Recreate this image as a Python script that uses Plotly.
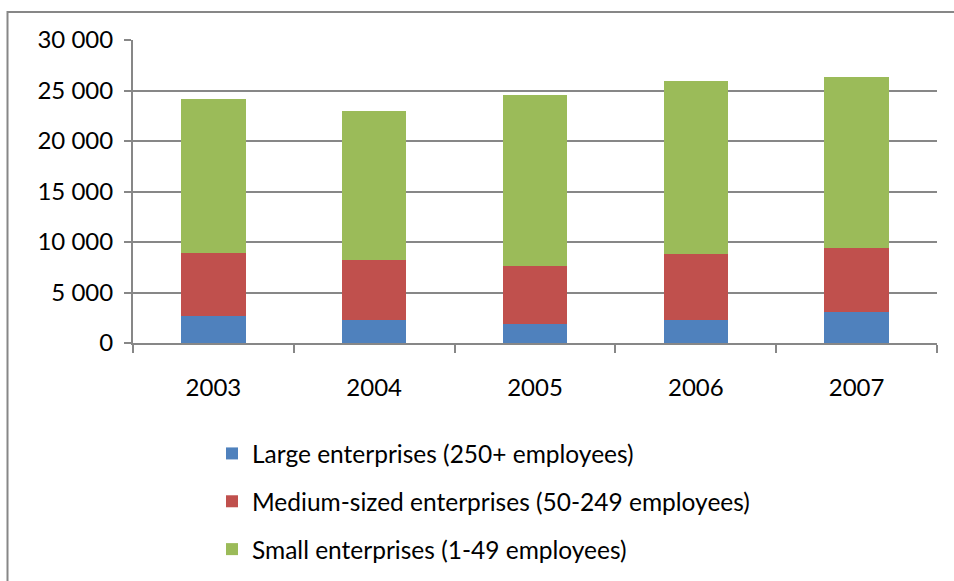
import plotly.graph_objects as go

# Number of enterprises by size class, 2003-2007
years = ["2003", "2004", "2005", "2006", "2007"]
large = [2630, 2240, 1840, 2240, 3030]
medium = [6330, 5930, 5740, 6530, 6330]
small = [15210, 14840, 16980, 17210, 16980]

series_names = [
    "Large enterprises (250+ employees)",
    "Medium-sized enterprises (50-249 employees)",
    "Small enterprises (1-49 employees)",
]
series_values = [large, medium, small]
series_colors = ["#4F81BD", "#C0504D", "#9BBB59"]

W, H = 954, 581
L, R, T, B = 133, 17, 40, 238
plot_w = W - L - R
plot_h = H - T - B

FONT = "Lato"
GRID = "#878787"

fig = go.Figure()
for name, vals, col in zip(series_names, series_values, series_colors):
    fig.add_trace(go.Bar(
        x=years, y=vals, name=name, legendgroup=name,
        marker=dict(color=col, line=dict(width=0)),
    ))

def px_x(px):
    return (px - L) / plot_w

def px_y(py):
    return (H - B - py) / plot_h

# outer chart frame (extends past the right and bottom edges)
fig.add_shape(type="rect", xref="paper", yref="paper",
              x0=px_x(7.5), x1=px_x(W + 20), y0=px_y(H + 20), y1=px_y(12),
              line=dict(color=GRID, width=2), fillcolor="rgba(0,0,0,0)",
              layer="below")

fig.update_layout(
    width=W, height=H,
    margin=dict(l=L, r=R, t=T, b=B, pad=0, autoexpand=False),
    paper_bgcolor="white", plot_bgcolor="white",
    barmode="stack", bargap=0.6,
    separators=". ",
    font=dict(family=FONT, size=24, color="#000000"),
    showlegend=True,
    legend=dict(
        x=px_x(212), xanchor="left",
        y=px_y(431), yanchor="top",
        traceorder="grouped", tracegroupgap=13,
        font=dict(family=FONT, size=24.5, color="#000000"),
        bgcolor="rgba(0,0,0,0)", borderwidth=0,
    ),
    xaxis=dict(
        type="category",
        showgrid=False, showline=True, linecolor=GRID, linewidth=2,
        ticks="outside", tickson="boundaries", ticklen=8, tickwidth=2,
        tickcolor=GRID, ticklabelstandoff=22,
        tickfont=dict(family=FONT, size=24, color="#000000"),
    ),
    yaxis=dict(
        range=[0, 30000], dtick=5000, tickformat=",d",
        showgrid=True, gridcolor=GRID, gridwidth=2,
        showline=True, linecolor=GRID, linewidth=2,
        ticks="outside", ticklen=7, tickwidth=2, tickcolor=GRID,
        ticklabelstandoff=6, zeroline=False,
        tickfont=dict(family=FONT, size=24, color="#000000"),
    ),
)

fig.write_html("out.html")
